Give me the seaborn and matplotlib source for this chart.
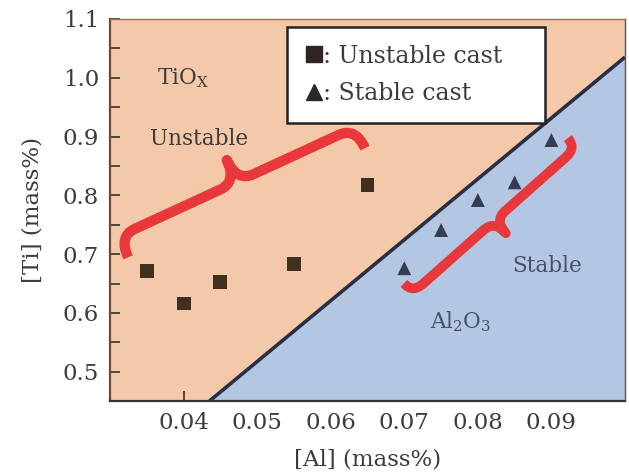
import matplotlib
matplotlib.use("Agg")
import matplotlib.pyplot as plt
import numpy as np
import pandas as pd
import seaborn as sns
from matplotlib.path import Path
from matplotlib.patches import PathPatch
from matplotlib.transforms import IdentityTransform

# data
unstable_al = [0.035, 0.040, 0.045, 0.055, 0.065]
unstable_ti = [0.671, 0.616, 0.652, 0.683, 0.817]
stable_al = [0.070, 0.075, 0.080, 0.085, 0.090]
stable_ti = [0.676, 0.741, 0.792, 0.822, 0.894]

# TiOx / Al2O3 boundary
boundary_al = [0.0435, 0.100]
boundary_ti = [0.450, 1.035]

# brace ends (data coords)
brace1 = [(0.03245, 0.6945), (0.06465, 0.8802)]
brace2 = [(0.06995, 0.6502), (0.09223, 0.8973)]

PEACH = "#f3c9aa"
BLUE = "#b3c6e2"
RED = "#e8383b"
TXT = "#3c3c3c"

sns.set_theme(style="ticks")
plt.rcParams["font.family"] = ["DejaVu Serif"]
plt.rcParams["mathtext.fontset"] = "dejavuserif"

fig, ax = plt.subplots(figsize=(6.29, 4.73), dpi=100)
fig.subplots_adjust(left=0.175, right=0.9936, bottom=0.152, top=0.960)
ax.set_xlim(0.03, 0.1)
ax.set_ylim(0.45, 1.1)
ax.set_facecolor(PEACH)

# stable region below the boundary
xs = np.array(boundary_al)
ys = np.array(boundary_ti)
ax.fill_between(xs, ys, 0.45, color=BLUE, lw=0, zorder=1)
ax.plot(xs, ys, color="#2b2f45", lw=2.6, zorder=2, solid_capstyle="butt")

df_u = pd.DataFrame({"al": unstable_al, "ti": unstable_ti})
df_s = pd.DataFrame({"al": stable_al, "ti": stable_ti})
sns.scatterplot(data=df_u, x="al", y="ti", marker="s", s=100, color="#41301f",
                edgecolor="none", ax=ax, zorder=4)
sns.scatterplot(data=df_s, x="al", y="ti", marker="^", s=100, color="#373b52",
                edgecolor="none", ax=ax, zorder=4)


def draw_brace(ends, h1, h2, r, sign, lw):
    p0, p1 = ax.transData.transform(ends)
    d = p1 - p0
    L = np.hypot(*d)
    u = d / L
    n = np.array([-u[1], u[0]]) * sign
    P = lambda a, b: p0 + a * u + b * n
    verts = [P(0, 0), P(0, h1), P(r, h1), P(L / 2 - r, h1), P(L / 2, h1), P(L / 2, h2),
             P(L / 2, h1), P(L / 2 + r, h1), P(L - r, h1), P(L, h1), P(L, 0)]
    codes = [Path.MOVETO, Path.CURVE3, Path.CURVE3, Path.LINETO, Path.CURVE3, Path.CURVE3,
             Path.CURVE3, Path.CURVE3, Path.LINETO, Path.CURVE3, Path.CURVE3]
    patch = PathPatch(Path(verts, codes), transform=IdentityTransform(), fill=False,
                      edgecolor=RED, lw=lw, capstyle="butt", joinstyle="round", zorder=5)
    ax.add_patch(patch)


draw_brace(brace1, 23, 47, 18, 1, 7.4)
draw_brace(brace2, 13, 30, 14, -1, 7.0)

# labels inside plot
ax.text(0.0399, 1.0, r"TiO$_\mathrm{X}$", fontsize=15.5, color=TXT, ha="center", va="center", zorder=6)
ax.text(0.0421, 0.8956, "Unstable", fontsize=15.5, color=TXT, ha="center", va="center", zorder=6)
ax.text(0.0894, 0.679, "Stable", fontsize=15.5, color="#4a5068", ha="center", va="center", zorder=6)
ax.text(0.0777, 0.585, r"Al$_2$O$_3$", fontsize=15.5, color="#4a5068", ha="center", va="center", zorder=6)

# legend
h_u = plt.Line2D([], [], ls="none", marker="s", ms=11, color="#2e2622")
h_s = plt.Line2D([], [], ls="none", marker="^", ms=12, color="#2e2622")
leg = ax.legend([h_u, h_s], [": Unstable cast", ": Stable cast"], loc="upper left",
                bbox_to_anchor=(0.344, 0.728, 0.501, 0.251), mode="expand",
                fontsize=17, frameon=True, fancybox=False,
                framealpha=1, edgecolor="#222222", handlelength=0.75, handletextpad=0.0,
                borderpad=0.75, labelspacing=0.6, borderaxespad=0)
leg.get_frame().set_linewidth(1.8)
leg.set_zorder(7)
for t in leg.get_texts():
    t.set_color(TXT)

ax.set_xticks([0.04, 0.05, 0.06, 0.07, 0.08, 0.09])
ax.set_xticklabels(["0.04", "0.05", "0.06", "0.07", "0.08", "0.09"])
ax.set_yticks([0.5, 0.6, 0.7, 0.8, 0.9, 1.0, 1.1])
ax.set_yticklabels(["0.5", "0.6", "0.7", "0.8", "0.9", "1.0", "1.1"])
ax.set_yticks(np.arange(0.55, 1.1, 0.1), minor=True)
ax.tick_params(axis="both", which="both", direction="in", labelsize=16.5, colors="#333333",
               labelcolor=TXT)
ax.tick_params(axis="both", which="major", length=7, width=1.2, pad=8)
ax.tick_params(axis="y", which="minor", length=7, width=1.2)

for side in ["top", "right"]:
    ax.spines[side].set_visible(True)
    ax.spines[side].set_linewidth(1.0)
ax.spines["left"].set_color("#6b4a2e")
ax.spines["left"].set_linewidth(1.6)
ax.spines["bottom"].set_color("#3a332e")
ax.spines["bottom"].set_linewidth(1.6)
ax.spines["top"].set_color("#9a6e50")
ax.spines["right"].set_color("#555555")

ax.set_xlabel("[Al] (mass%)", fontsize=16.5, color=TXT, labelpad=10)
ax.set_ylabel("[Ti] (mass%)", fontsize=16.5, color=TXT, labelpad=14)

fig.savefig("out.png", dpi=100)
